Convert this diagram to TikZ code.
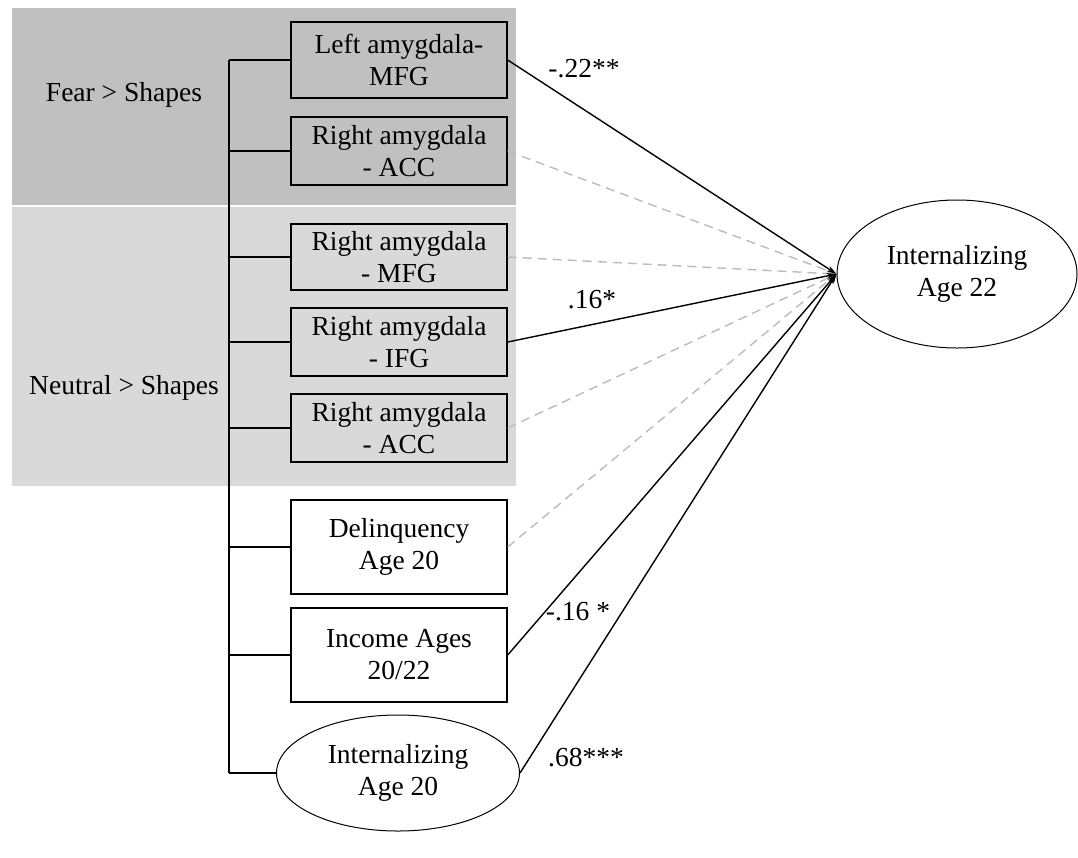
\documentclass[tikz,border=0pt]{standalone}
\usepackage{fontspec}
\setmainfont{Liberation Serif}
\usetikzlibrary{arrows.meta,shapes.geometric}
\definecolor{darkbg}{HTML}{C0C0C0}
\definecolor{lightbg}{HTML}{D9D9D9}
\definecolor{dashgray}{HTML}{BBBBBB}
\begin{document}
\begin{tikzpicture}[x=1pt,y=-1pt,
  every node/.style={font=\fontsize{27.5}{32}\selectfont, align=center, inner sep=0pt},
  varbox/.style={draw=black, line width=1.4pt, rectangle, minimum width=216pt},
  latent/.style={draw=black, line width=1pt, ellipse},
  tree/.style={draw=black, line width=1.4pt},
  sigpath/.style={draw=black, line width=1.4pt, -{Stealth[length=10pt,width=6pt]}},
  nspath/.style={draw=dashgray, line width=1.4pt, dash pattern=on 9pt off 6pt, -{Stealth[length=10pt,width=6pt]}},
  coef/.style={font=\fontsize{27.5}{32}\selectfont}
]
\useasboundingbox (0,0) rectangle (1078,857);
\fill[white] (0,0) rectangle (1078,857);
% group backgrounds
\fill[darkbg] (12,8) rectangle (516,205);
\fill[lightbg] (12,207) rectangle (516,486);
\node (fear) at (124,95) {Fear {>} Shapes};
\node (neutral) at (124,388) {Neutral {>} Shapes};
% predictors
\node[varbox, fill=darkbg, minimum height=76pt] (b1) at (399,60) {Left amygdala-\\MFG};
\node[varbox, fill=darkbg, minimum height=68pt] (b2) at (399,151) {Right amygdala\\- ACC};
\node[varbox, fill=lightbg, minimum height=66pt] (b3) at (399,257) {Right amygdala\\- MFG};
\node[varbox, fill=lightbg, minimum height=68pt] (b4) at (399,342) {Right amygdala\\- IFG};
\node[varbox, fill=lightbg, minimum height=68pt] (b5) at (399,428) {Right amygdala\\- ACC};
\node[varbox, fill=white, minimum height=94pt] (b6) at (399,547) {Delinquency\\Age 20};
\node[varbox, fill=white, minimum height=94pt] (b7) at (399,655) {Income Ages\\20/22};
\node[latent, minimum width=243pt, minimum height=116pt] (b8) at (398,773) {Internalizing\\Age 20};
% outcome
\node[latent, minimum width=240pt, minimum height=148pt] (out) at (957,274) {Internalizing\\Age 22};
% covariance tree
\coordinate (t1) at (229,60);
\coordinate (t8) at (229,773);
\draw[tree] (t1) -- (t8);
\foreach \b in {b1,b2,b3,b4,b5,b6,b7,b8}{
  \draw[tree] (\b.west) -- (\b.west -| t1);
}
% paths
\draw[nspath] (b2.east) -- (out.west);
\draw[nspath] (b3.east) -- (out.west);
\draw[nspath] (b5.east) -- (out.west);
\draw[nspath] (b6.east) -- (out.west);
\draw[sigpath] (b1.east) -- (out.west);
\draw[sigpath] (b4.east) -- (out.west);
\draw[sigpath] (b7.east) -- (out.west);
\draw[sigpath] (b8.east) -- (out.west);
% coefficients
\node[coef] (c1) at (584,69) {-.22**};
\node[coef] (c4) at (592,300) {.16*};
\node[coef] (c7) at (578,612) {-.16 *};
\node[coef] (c8) at (586,758) {.68***};
\end{tikzpicture}
\end{document}
